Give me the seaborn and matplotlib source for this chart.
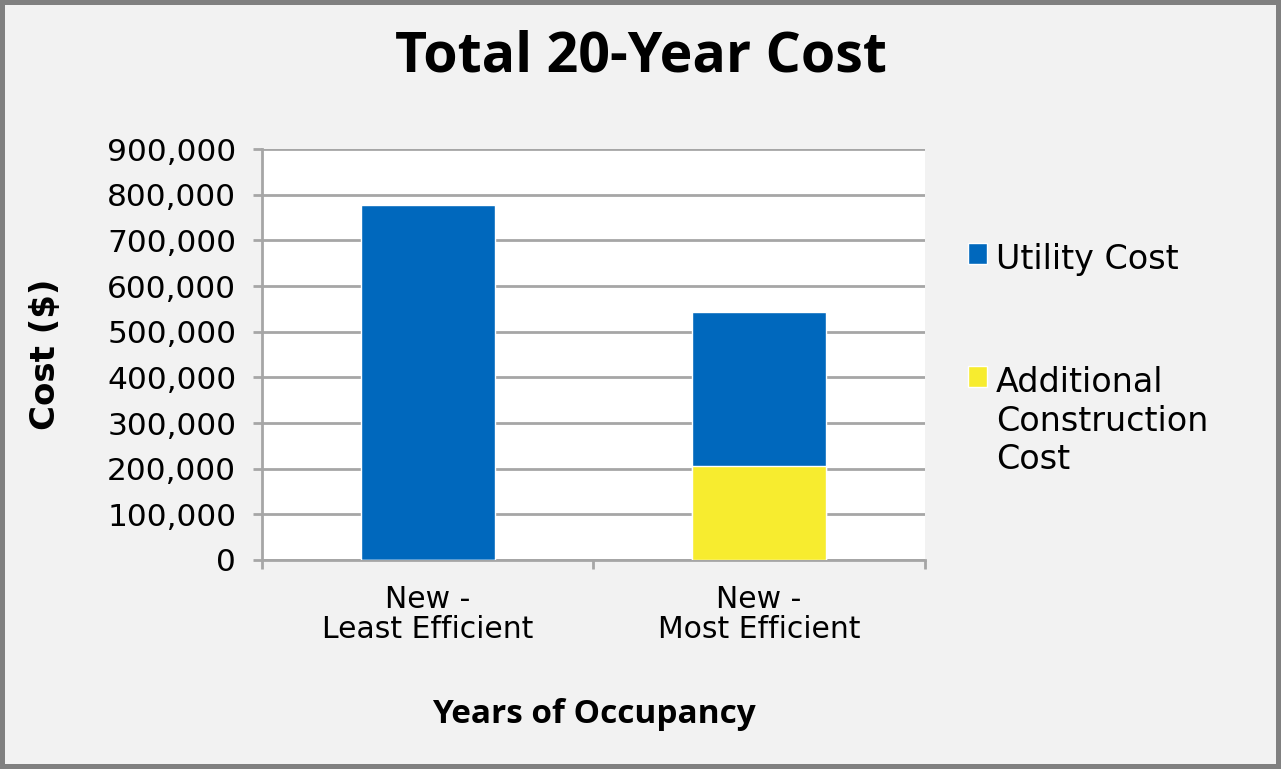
from matplotlib import pyplot as plt
from matplotlib.patches import Patch
import seaborn as sns
import pandas as pd

categories = ["New -\nLeast Efficient", "New -\nMost Efficient"]
utility_cost = [777000, 337000]
construction_cost = [0, 206000]
series_names = ["Utility Cost", "Additional\nConstruction\nCost"]
y_ticks = list(range(0, 900001, 100000))

blue = "#0068bd"
yellow = "#f7ec2f"
grid_grey = "#a6a6a6"

df = pd.DataFrame({
    "category": categories,
    "utility": utility_cost,
    "construction": construction_cost,
})
df["total"] = df["utility"] + df["construction"]

sns.set_style("white")
plt.rcParams["font.family"] = ["DejaVu Sans"]
plt.rcParams["text.color"] = "black"

fig = plt.figure(figsize=(12.81, 7.69), dpi=100)
fig.patch.set_facecolor("#f2f2f2")
fig.patch.set_edgecolor("#808080")
fig.patch.set_linewidth(6)
ax = fig.add_axes([0.2045, 0.2718, 0.5175, 0.5344])
ax.set_facecolor("white")

# stacked bars: total in blue, construction part over it in yellow
sns.barplot(data=df, x="category", y="total", color=blue, width=0.405,
            saturation=1, ax=ax, zorder=3)
sns.barplot(data=df, x="category", y="construction", color=yellow, width=0.405,
            saturation=1, ax=ax, zorder=4)

ax.set_ylim(0, 900000)
ax.set_xlim(-0.5, 1.5)
ax.set_yticks(y_ticks)
ax.set_yticklabels([f"{v:,}" for v in y_ticks])
ax.yaxis.grid(True, color=grid_grey, linewidth=2, zorder=0)
ax.set_axisbelow(True)

for s in ["top", "right"]:
    ax.spines[s].set_visible(False)
for s in ["left", "bottom"]:
    ax.spines[s].set_color(grid_grey)
    ax.spines[s].set_linewidth(2)

ax.tick_params(axis="y", length=6.5, width=2, color=grid_grey, labelsize=22.5,
               pad=12, left=True, labelcolor="black")
ax.set_xticks([0, 1])
ax.set_xticklabels(categories, linespacing=1.05)
ax.tick_params(axis="x", length=0, labelsize=21.5, pad=18, labelcolor="black")
ax.set_xticks([-0.5, 0.5, 1.5], minor=True)
ax.tick_params(axis="x", which="minor", length=6.5, width=2, color=grid_grey,
               bottom=True)

ax.set_xlabel("Years of Occupancy", fontsize=24, fontweight="bold",
              family="Open Sans", color="black", va="center")
ax.xaxis.set_label_coords(0.5, -0.377)
ax.set_ylabel("Cost ($)", fontsize=24.5, fontweight="bold",
              color="black", va="center")
ax.yaxis.set_label_coords(-0.327, 0.5)
fig.text(0.5, 1 - 57 / 769, "Total 20-Year Cost", fontsize=40,
         fontweight="bold", family="Open Sans", color="black",
         ha="center", va="center")

handles = [Patch(facecolor=blue), Patch(facecolor=yellow)]
leg = fig.legend(handles, series_names, loc="upper left",
                 bbox_to_anchor=(968 / 1281, 1 - 243 / 769), frameon=False,
                 fontsize=24, handlelength=0.58, handleheight=0.58,
                 handletextpad=0.25, labelspacing=2.7, borderpad=0,
                 borderaxespad=0)
for t in leg.get_texts():
    t.set_linespacing(1.22)
# put the colour box level with the first line of a multi-line label
for col in leg._legend_handle_box.get_children():
    for row in col.get_children():
        row.align = "top"

fig.savefig("out.png", dpi=100, facecolor=fig.get_facecolor(),
            edgecolor=fig.get_edgecolor())
